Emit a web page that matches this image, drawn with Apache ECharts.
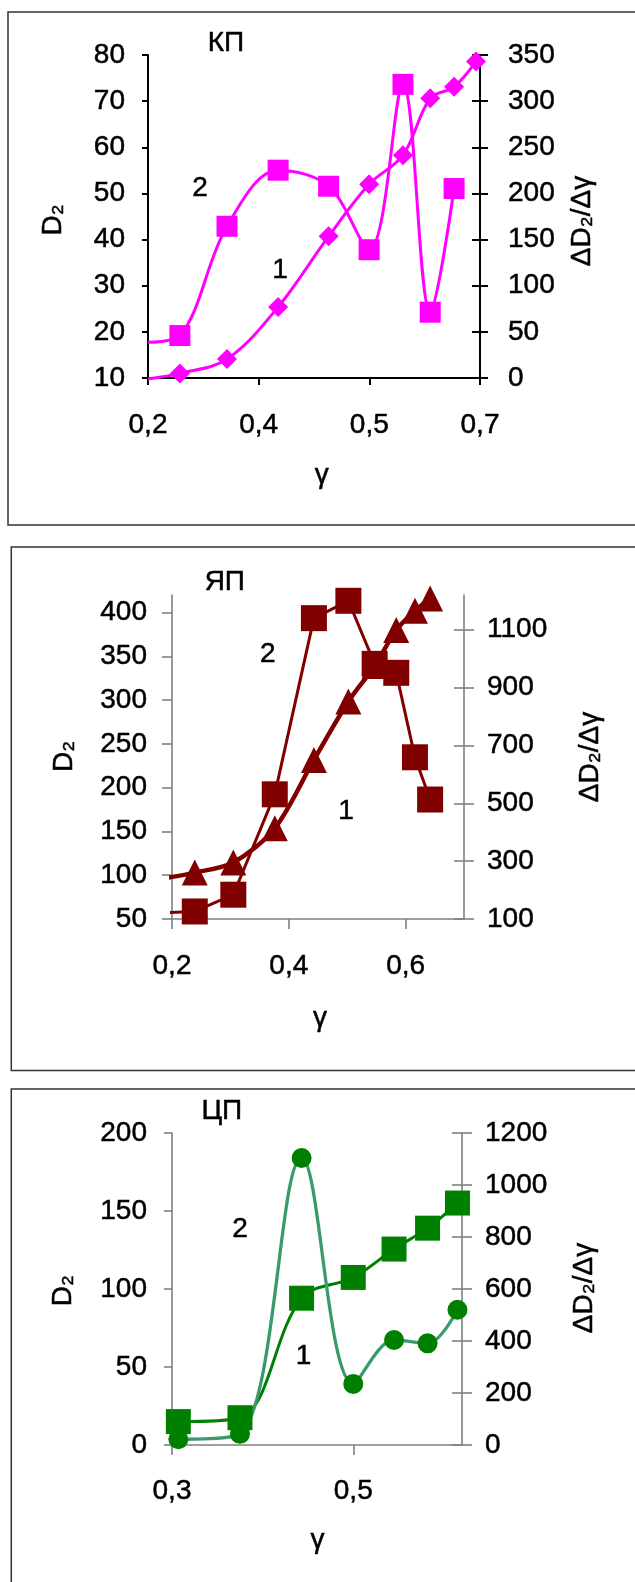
<!DOCTYPE html>
<html><head><meta charset="utf-8">
<script src="https://cdn.jsdelivr.net/npm/echarts@6/dist/echarts.min.js"></script>
<style>html,body{margin:0;padding:0;background:#fff}#c{width:635px;height:1582px}</style>
</head><body><div id="c"></div>
<script>
// ---------- Panel 1: КП ----------
const kpGamma = [0.248, 0.319, 0.396, 0.472, 0.533, 0.584, 0.625, 0.661, 0.694];
const kpD2 = [11.0, 14.1, 25.4, 40.7, 52.0, 58.3, 70.6, 73.1, 78.6];
const kpDeriv = [46.0, 164.4, 225.2, 207.8, 139.0, 318.2, 71.3, 205.3];
const kpLead = [0.2, 9.8, 38.7];          // gamma, D2, dD2/dγ where curves begin
const kpXTicks = [0.2, 0.3667, 0.5333, 0.7];
const kpLeftTicks = [10, 20, 30, 40, 50, 60, 70, 80];
const kpRightTicks = [0, 50, 100, 150, 200, 250, 300, 350];

// ---------- Panel 2: ЯП ----------
const ypGamma = [0.239, 0.305, 0.376, 0.443, 0.502, 0.547, 0.584, 0.616, 0.642];
const ypD2 = [103, 114.5, 153.5, 231.6, 298.3, 339, 380, 402, 416];
const ypDeriv = [126, 184, 531, 1140, 1200, 982, 951, 659, 513];
const ypLead = [0.179, 95.5, 120.6];
const ypXTicks = [0.2, 0.4, 0.6];
const ypLeftTicks = [50, 100, 150, 200, 250, 300, 350, 400];
const ypRightTicks = [100, 300, 500, 700, 900, 1100];

// ---------- Panel 3: ЦП ----------
const cpGamma = [0.307, 0.375, 0.443, 0.500, 0.545, 0.582, 0.615];
const cpD2 = [15.0, 17.5, 94.1, 107.4, 125.6, 139.0, 155.1];
const cpDeriv = [22, 43, 1104, 235, 404, 391, 520];
const cpLead = [0.288, 15.0, 21.8];
const cpXTicks = [0.3, 0.5];
const cpLeftTicks = [0, 50, 100, 150, 200];
const cpRightTicks = [0, 200, 400, 600, 800, 1000, 1200];

const FONT = 'Liberation Sans, Arial, sans-serif';
const FS = 28;
const HEAVY = { textBorderColor: '#000', textBorderWidth: 0.5 };
const MAG = '#ff00ff', MAROON = '#800000', GREEN = '#008000', SEA = '#3a9a6c';

function pts(xs, ys, x0, y0) {
  const d = [{ value: [x0, y0], symbol: 'none' }];
  ys.forEach((y, i) => d.push([xs[i], y]));
  return d;
}
const fmtX = v => v.toFixed(1).replace('.', ',');
const fmtY = v => String(Math.round(v));

function xAx(grid, min, max, ticks, o) {
  return {
    type: 'value', gridIndex: grid, min, max,
    axisLine: { show: true, onZero: false, lineStyle: { color: o.c, width: o.w } },
    axisTick: { show: true, customValues: ticks, length: o.tl, lineStyle: { color: o.c, width: o.w } },
    axisLabel: { customValues: ticks, formatter: fmtX, margin: o.m, fontSize: FS, fontFamily: FONT, color: '#000', ...HEAVY },
    splitLine: { show: false }
  };
}
function yAx(grid, pos, min, max, ticks, o) {
  return {
    type: 'value', gridIndex: grid, position: pos, min, max,
    axisLine: { show: !o.dup, onZero: false, lineStyle: { color: o.c, width: o.w } },
    axisTick: { show: true, customValues: ticks, inside: !!o.inside, length: o.tl, lineStyle: { color: o.c, width: o.w } },
    axisLabel: { show: !o.dup, customValues: ticks, formatter: fmtY, margin: o.m || 8, fontSize: FS, fontFamily: FONT, color: '#000', padding: o.pad || 0, ...HEAVY },
    splitLine: { show: false }
  };
}
function T(x, y, text, rot) {
  return { type: 'text', x, y, rotation: rot || 0, z: 100,
    style: { text, fontSize: FS, fontFamily: FONT, fill: '#000', align: 'center', verticalAlign: 'middle', stroke: '#000', lineWidth: 0.5 } };
}
function frame(x, y, w, h) {
  return { type: 'rect', shape: { x, y, width: w, height: h }, z: -1,
    style: { fill: 'none', stroke: '#333', lineWidth: 1.5 } };
}

const A1 = { c: '#000', w: 2 }, A2 = { c: '#808080', w: 1.6 };

const option = {
  animation: false,
  backgroundColor: '#fff',
  grid: [
    { left: 148, right: 155, top: 55, height: 323 },
    { left: 172, right: 171, top: 595, height: 324 },
    { left: 172, right: 173, top: 1133, height: 312 }
  ],
  xAxis: [
    xAx(0, 0.2, 0.7, kpXTicks, { ...A1, tl: 7, m: 33 }),
    xAx(1, 0.2, 0.7, ypXTicks, { ...A2, tl: 10, m: 33 }),
    xAx(2, 0.3, 0.62, cpXTicks, { ...A2, tl: 10, m: 32 })
  ],
  yAxis: [
    yAx(0, 'left', 10, 80, kpLeftTicks, { ...A1, tl: 6, m: 23, pad: [5, 0, 0, 0] }),
    yAx(0, 'right', 0, 350, kpRightTicks, { ...A1, tl: 8, m: 28, pad: [5, 0, 0, 0] }),
    yAx(0, 'right', 0, 350, kpRightTicks, { ...A1, tl: 8, inside: true, dup: true }),
    yAx(1, 'left', 50, 420, ypLeftTicks, { ...A2, tl: 10, m: 25, pad: [3, 0, 0, 0] }),
    yAx(1, 'right', 100, 1220, ypRightTicks, { ...A2, tl: 10, m: 23, pad: [3, 0, 0, 0] }),
    yAx(1, 'right', 100, 1220, ypRightTicks, { ...A2, tl: 10, inside: true, dup: true }),
    yAx(2, 'left', 0, 200, cpLeftTicks, { ...A2, tl: 8, m: 25 }),
    yAx(2, 'right', 0, 1200, cpRightTicks, { ...A2, tl: 10, m: 23 }),
    yAx(2, 'right', 0, 1200, cpRightTicks, { ...A2, tl: 10, inside: true, dup: true })
  ],
  series: [
    { type: 'line', xAxisIndex: 0, yAxisIndex: 0, clip: false, smooth: 0.35,
      data: pts(kpGamma, kpD2, kpLead[0], kpLead[1]),
      symbol: 'diamond', symbolSize: 20, lineStyle: { color: MAG, width: 3 }, itemStyle: { color: MAG } },
    { type: 'line', xAxisIndex: 0, yAxisIndex: 1, clip: false, smooth: 0.35,
      data: pts(kpGamma, kpDeriv, kpLead[0], kpLead[2]),
      symbol: 'rect', symbolSize: 21, lineStyle: { color: MAG, width: 3 }, itemStyle: { color: MAG } },

    { type: 'line', xAxisIndex: 1, yAxisIndex: 3, clip: false, smooth: 0.3,
      data: pts(ypGamma, ypD2, ypLead[0], ypLead[1]),
      symbol: 'triangle', symbolSize: 26, lineStyle: { color: MAROON, width: 4.5 }, itemStyle: { color: MAROON } },
    { type: 'line', xAxisIndex: 1, yAxisIndex: 4, clip: false, smooth: false,
      data: pts(ypGamma, ypDeriv, ypLead[0], ypLead[2]),
      symbol: 'rect', symbolSize: 26, lineStyle: { color: MAROON, width: 3 }, itemStyle: { color: MAROON } },

    { type: 'line', xAxisIndex: 2, yAxisIndex: 6, clip: false, smooth: 0.35,
      data: pts(cpGamma, cpD2, cpLead[0], cpLead[1]),
      symbol: 'rect', symbolSize: 25, lineStyle: { color: GREEN, width: 3 }, itemStyle: { color: GREEN } },
    { type: 'line', xAxisIndex: 2, yAxisIndex: 7, clip: false, smooth: 0.35,
      data: pts(cpGamma, cpDeriv, cpLead[0], cpLead[2]),
      symbol: 'circle', symbolSize: 20, lineStyle: { color: SEA, width: 3.3 }, itemStyle: { color: GREEN } }
  ],
  graphic: [
    frame(8, 12, 700, 513),
    frame(11.3, 547, 700, 523.5),
    frame(11.3, 1089, 700, 600),
    T(226, 43, 'КП'), T(200, 188, '2'), T(280, 270, '1'), T(321.7, 475, 'γ'),
    T(53, 220, 'D₂', Math.PI / 2), T(582, 221, 'ΔD₂/Δγ', Math.PI / 2),
    T(224.8, 582, 'ЯП'), T(267.7, 654, '2'), T(346, 811.7, '1'), T(320, 1018.6, 'γ'),
    T(63.8, 756.4, 'D₂', Math.PI / 2), T(590, 757, 'ΔD₂/Δγ', Math.PI / 2),
    T(221.8, 1111.7, 'ЦП'), T(240, 1229, '2'), T(303.5, 1356, '1'), T(317.6, 1539.8, 'γ'),
    T(63.4, 1290.8, 'D₂', Math.PI / 2), T(584, 1288, 'ΔD₂/Δγ', Math.PI / 2)
  ]
};

const chart = echarts.init(document.getElementById('c'), null, { renderer: 'canvas' });
chart.setOption(option);
</script>
</body></html>
